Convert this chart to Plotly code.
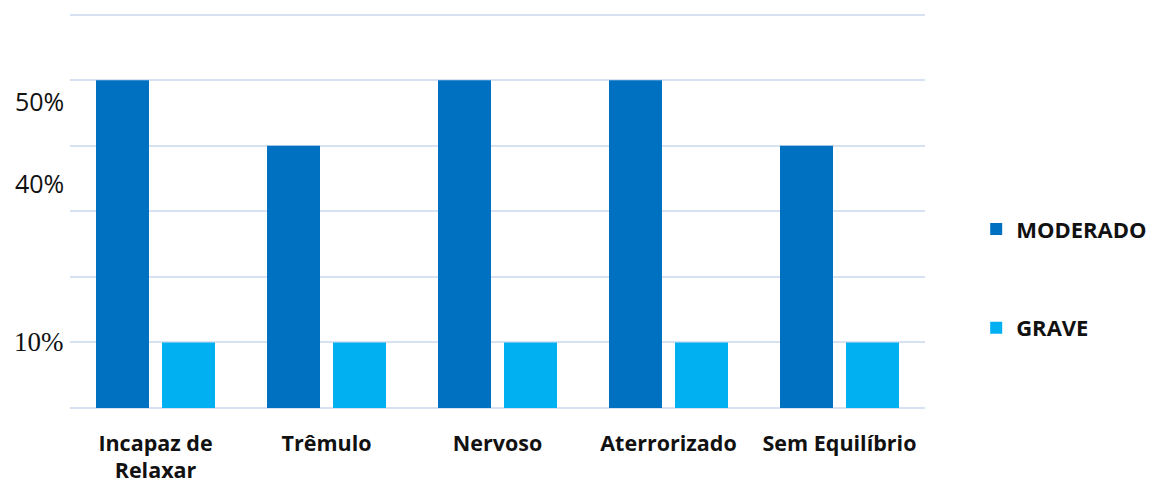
import plotly.graph_objects as go

categories = ["Incapaz de<br>Relaxar", "Trêmulo", "Nervoso", "Aterrorizado", "Sem Equilíbrio"]
moderado = [50, 40, 50, 50, 40]
grave = [10, 10, 10, 10, 10]

# left-hand percentage labels and the value each sits beside
pct_labels = ["50%", "40%", "10%"]
pct_levels = [46.8, 34.3, 10]
pct_fonts = ["Open Sans", "Open Sans", "Liberation Serif"]
pct_sizes = [25, 25, 27]

fig = go.Figure()
fig.add_trace(go.Bar(x=categories, y=moderado, name="<b>MODERADO</b>",
                     marker=dict(color="#0070C0", line=dict(width=0)),
                     legendgroup="a"))
fig.add_trace(go.Bar(x=categories, y=grave, name="<b>GRAVE</b>",
                     marker=dict(color="#00B0F0", line=dict(width=0)),
                     legendgroup="b"))

for txt, lvl, fam, sz in zip(pct_labels, pct_levels, pct_fonts, pct_sizes):
    fig.add_annotation(x=0, xref="paper", xanchor="right", xshift=-4,
                       y=lvl, yref="y", yanchor="middle",
                       text=txt, showarrow=False,
                       font=dict(family=fam, size=sz, color="#111111"))

fig.update_layout(
    width=1158, height=484,
    margin=dict(l=70, r=233, t=8, b=76, autoexpand=False),
    paper_bgcolor="white", plot_bgcolor="white",
    barmode="group", bargap=0.228, bargroupgap=0.197,
    font=dict(family="Open Sans", color="#111111"),
    xaxis=dict(showgrid=False, showline=False, ticks="", automargin=False,
               tickfont=dict(family="Open Sans", size=21.5, color="#111111"),
               tickprefix="<b>", ticksuffix="</b>",
               ticklabelstandoff=20),
    yaxis=dict(range=[0, 61], tickvals=[0, 10, 20, 30, 40, 50, 60],
               showticklabels=False, automargin=False,
               showgrid=True, gridcolor="#D6E2F2", gridwidth=1.5,
               zeroline=True, zerolinecolor="#D6E2F2", zerolinewidth=1.5),
    legend=dict(x=0.843, xanchor="left", xref="container",
                y=0.424, yanchor="middle", yref="container",
                font=dict(family="Open Sans", size=22, color="#111111"),
                tracegroupgap=67, itemwidth=30),
    showlegend=True,
)

fig.write_html("out.html")
